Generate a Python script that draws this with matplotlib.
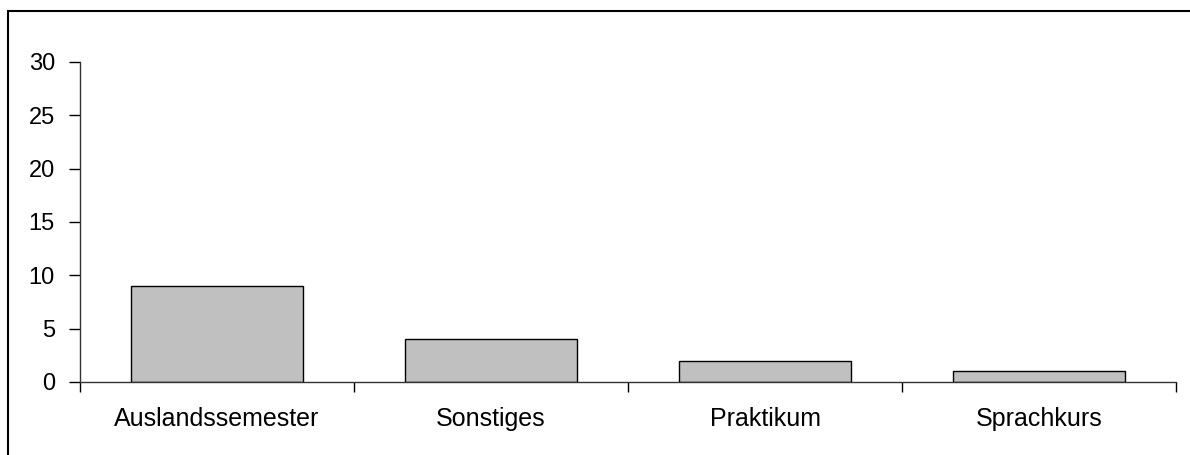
import matplotlib.pyplot as plt
import matplotlib.patches as mpatches
import numpy as np

# data
kategorien = ["Auslandssemester", "Sonstiges", "Praktikum", "Sprachkurs"]
werte = [9, 4, 2, 1]
y_ticks = [0, 5, 10, 15, 20, 25, 30]

plt.rcParams['font.family'] = ['Liberation Sans', 'DejaVu Sans']

W, H = 1190, 455
fig = plt.figure(figsize=(W / 100, H / 100), dpi=100)
ax = fig.add_axes([80 / W, (H - 382) / H, (1176 - 80) / W, (382 - 62) / H])

# outer frame (cut off at right and bottom like the original)
rahmen = mpatches.Rectangle((8 / W, -0.1), 1.2, (H - 11) / H + 0.1,
                            transform=fig.transFigure, fill=False,
                            edgecolor='black', linewidth=1.5, clip_on=False)
fig.patches.append(rahmen)

x = np.arange(len(kategorien))
ax.bar(x, werte, width=0.63, color='#c0c0c0', edgecolor='black', linewidth=1)

ax.set_xlim(-0.5, len(kategorien) - 0.5)
ax.set_ylim(0, 30)
ax.set_yticks(y_ticks)
ax.set_yticklabels([str(v) for v in y_ticks], fontsize=17)

# ticks between categories, labels in the middle
ax.set_xticks(np.arange(len(kategorien) + 1) - 0.5)
ax.set_xticklabels([])
ax.set_xticks(x, minor=True)
ax.set_xticklabels(kategorien, minor=True, fontsize=18)
ax.tick_params(axis='x', which='major', direction='out', length=7, width=1)
ax.tick_params(axis='x', which='minor', length=0, pad=18)
ax.tick_params(axis='y', direction='out', length=8, width=1, pad=10)

for s in ['top', 'right']:
    ax.spines[s].set_visible(False)
for s in ['left', 'bottom']:
    ax.spines[s].set_linewidth(1)
    ax.spines[s].set_color('#333333')

fig.savefig('out.png', dpi=100)
